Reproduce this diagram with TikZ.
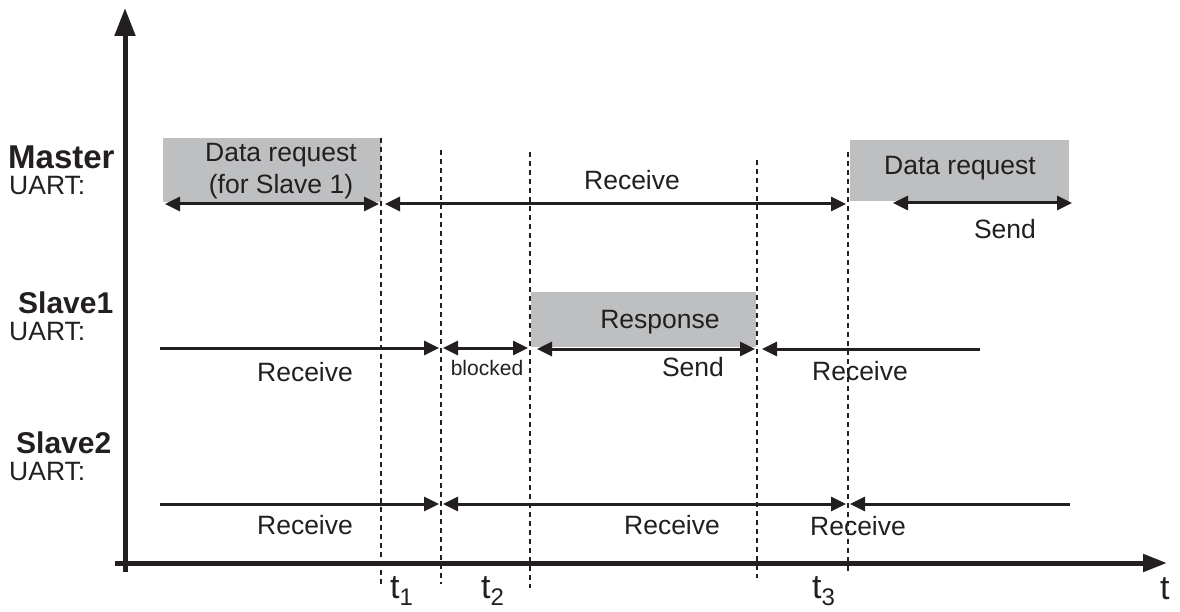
\documentclass[tikz,border=0pt]{standalone}
\usepackage{fontspec}
\setmainfont{Liberation Sans}
\usetikzlibrary{arrows.meta}
\definecolor{boxgray}{RGB}{190,191,193}
\definecolor{ink}{RGB}{35,31,32}
\tikzset{
  lbl/.style={font=\fontsize{26.5}{30}\selectfont, text=ink, inner sep=0pt},
  small/.style={font=\fontsize{21}{23}\selectfont, text=ink, inner sep=0pt},
  head/.style={font=\bfseries\fontsize{33}{36}\selectfont, text=ink, inner sep=0pt},
  headb/.style={font=\bfseries\fontsize{30}{34}\selectfont, text=ink, inner sep=0pt},
  tlbl/.style={font=\fontsize{34}{36}\selectfont, text=ink, inner sep=0pt},
  graybox/.style={fill=boxgray, draw=none},
  tl/.style={draw=ink, line width=2.3pt, dash pattern=on 5pt off 4pt},
  sig/.style={draw=ink, line width=3pt},
  tip/.tip={Triangle[length=15pt,width=14pt]},
  axis/.style={draw=ink, line width=5pt},
}
\newcommand{\tsub}[1]{t\raisebox{-7pt}{\fontsize{24}{26}\selectfont #1}}
\begin{document}
\begin{tikzpicture}[x=1pt,y=-1pt]
\useasboundingbox (0,0) rectangle (1180,612);

% gray boxes
\path[graybox] (163,138) rectangle (381,202);
\path[graybox] (850,140) rectangle (1069,201);
\path[graybox] (531,292) rectangle (756,347);

% axes
\coordinate (ybot) at (125,572);
\coordinate (ytop) at (125,8);
\coordinate (xl) at (115,563);
\coordinate (xr) at (1167,563);
\draw[axis, -{Triangle[length=28pt,width=20pt]}] (ybot) -- (ytop);
\draw[axis, -{Triangle[length=24pt,width=17pt]}] (xl) -- (xr);

% time lines
\coordinate (a1) at (381,138); \coordinate (b1) at (381,585);
\coordinate (a2) at (441,150); \coordinate (b2) at (441,584);
\coordinate (a3) at (530,152); \coordinate (b3) at (530,588);
\coordinate (a4) at (757,160); \coordinate (b4) at (757,578);
\coordinate (a5) at (848,152); \coordinate (b5) at (848,572);
\draw[tl] (a1) -- (b1);
\draw[tl] (a2) -- (b2);
\draw[tl] (a3) -- (b3);
\draw[tl] (a4) -- (b4);
\draw[tl] (a5) -- (b5);

% Master row
\coordinate (m1) at (165,204); \coordinate (m2) at (379,204);
\coordinate (m3) at (385,204); \coordinate (m4) at (846,204);
\coordinate (m5) at (893,203); \coordinate (m6) at (1072,203);
\draw[sig, tip-tip] (m1) -- (m2);
\draw[sig, tip-tip] (m3) -- (m4);
\draw[sig, tip-tip] (m5) -- (m6);

% Slave1 row
\coordinate (s1) at (160,348); \coordinate (s2) at (439,348);
\coordinate (s3) at (443,348); \coordinate (s4) at (528,348);
\coordinate (s5) at (537,349); \coordinate (s6) at (755,349);
\coordinate (s7) at (762,349); \coordinate (s8) at (980,349);
\draw[sig, -tip] (s1) -- (s2);
\draw[sig, tip-tip] (s3) -- (s4);
\draw[sig, tip-tip] (s5) -- (s6);
\draw[sig, tip-] (s7) -- (s8);

% Slave2 row
\coordinate (r1) at (160,504); \coordinate (r2) at (439,504);
\coordinate (r3) at (443,504); \coordinate (r4) at (846,504);
\coordinate (r5) at (850,504); \coordinate (r6) at (1070,504);
\draw[sig, -tip] (r1) -- (r2);
\draw[sig, tip-tip] (r3) -- (r4);
\draw[sig, tip-] (r5) -- (r6);

% texts
\node[lbl, align=center] (dr1) at (281,171) {Data request\\[2pt](for Slave 1)};
\node[lbl] (dr2) at (960,168) {Data request};
\node[lbl] (resp) at (660,322) {Response};
\node[lbl] (mrec) at (632,180) {Receive};
\node[lbl] (msend) at (1005,229) {Send};
\node[lbl] (s1rec) at (305,372) {Receive};
\node[small] (blk) at (487,368) {blocked};
\node[lbl] (s1send) at (693,367) {Send};
\node[lbl] (s1rec2) at (860,371) {Receive};
\node[lbl] (s2rec) at (305,525) {Receive};
\node[lbl] (s2rec2) at (672,525) {Receive};
\node[lbl] (s2rec3) at (858,526) {Receive};

\node[head, anchor=base west] (mas) at (8,169) {Master};
\node[lbl, anchor=base west] (u1) at (9,195) {UART:};
\node[headb, anchor=base west] (sl1) at (18,313) {Slave1};
\node[lbl, anchor=base west] (u2) at (9,340) {UART:};
\node[headb, anchor=base west] (sl2) at (16,453) {Slave2};
\node[lbl, anchor=base west] (u3) at (9,480) {UART:};

\node[tlbl, anchor=base west] (t1) at (390,598) {\tsub{1}};
\node[tlbl, anchor=base west] (t2) at (481,598) {\tsub{2}};
\node[tlbl, anchor=base west] (t3) at (812,598) {\tsub{3}};
\node[tlbl, anchor=base west] (tt) at (1160,599) {t};
\end{tikzpicture}
\end{document}
